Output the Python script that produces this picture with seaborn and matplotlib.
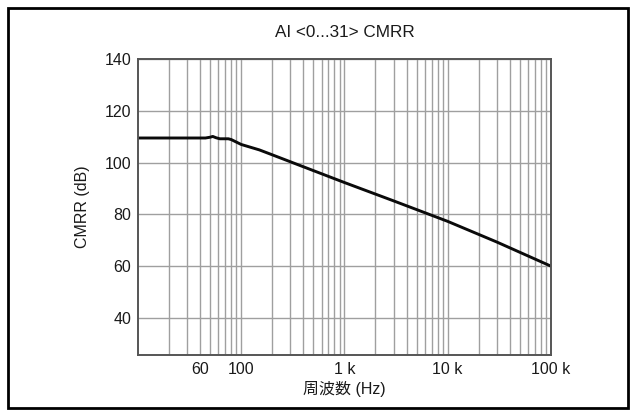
import numpy as np
import pandas as pd
import matplotlib
matplotlib.use("Agg")
import matplotlib.pyplot as plt
from matplotlib.patches import Rectangle
from matplotlib.ticker import FixedLocator, NullFormatter
import seaborn as sns

# values
freq_hz = [10, 45, 50, 53, 57, 62, 75, 80, 100, 150, 200, 300, 1000, 3000, 10000, 30000, 100000]
cmrr_db = [109.5, 109.5, 109.8, 110.1, 109.6, 109.2, 109.2, 108.9, 107.0, 104.9, 103.0, 100.3,
           92.3, 85.2, 77.3, 69.3, 60.0]

x_tick_pos = [40, 100, 1000, 10000, 100000]
x_tick_labels = ["60", "100", "1 k", "10 k", "100 k"]
y_ticks = [40, 60, 80, 100, 120, 140]

df = pd.DataFrame({"freq": freq_hz, "cmrr": cmrr_db})

sns.set_style("white")
plt.rcParams["font.family"] = ["Liberation Sans", "Noto Sans CJK JP", "DejaVu Sans"]

fig = plt.figure(figsize=(6.36, 4.16), dpi=100)
ax = fig.add_axes([0.217, 0.147, 0.649, 0.711])

sns.lineplot(data=df, x="freq", y="cmrr", ax=ax, color="#0a0a0a", linewidth=2.1)

ax.set_xscale("log")
ax.set_xlim(10, 100000)
ax.set_ylim(25.7, 140)

ax.xaxis.set_major_locator(FixedLocator(x_tick_pos))
ax.set_xticklabels(x_tick_labels)
minor = [m * 10 ** d for d in range(1, 5) for m in range(2, 10)]
ax.xaxis.set_minor_locator(FixedLocator(minor))
ax.xaxis.set_minor_formatter(NullFormatter())
ax.set_yticks(y_ticks)

ax.grid(True, which="both", axis="x", color="#9f9f9f", linewidth=1.0)
ax.grid(True, which="major", axis="y", color="#9f9f9f", linewidth=1.0)
ax.tick_params(which="both", length=0, labelsize=11.5, colors="#1a1a1a", pad=5)

for s in ax.spines.values():
    s.set_color("#555555")
    s.set_linewidth(1.4)

ax.set_xlabel("周波数 (Hz)", fontsize=11.5, labelpad=3, color="#1a1a1a")
ax.set_ylabel("CMRR (dB)", fontsize=11.5, labelpad=10, color="#1a1a1a")
fig.text(0.5415, 0.922, "AI <0...31> CMRR", ha="center", va="center", fontsize=12.3, color="#1a1a1a")

fig.patches.append(Rectangle((0.013, 0.019), 0.975, 0.962, transform=fig.transFigure,
                             fill=False, edgecolor="black", linewidth=2))

fig.savefig("out.png", dpi=100)
